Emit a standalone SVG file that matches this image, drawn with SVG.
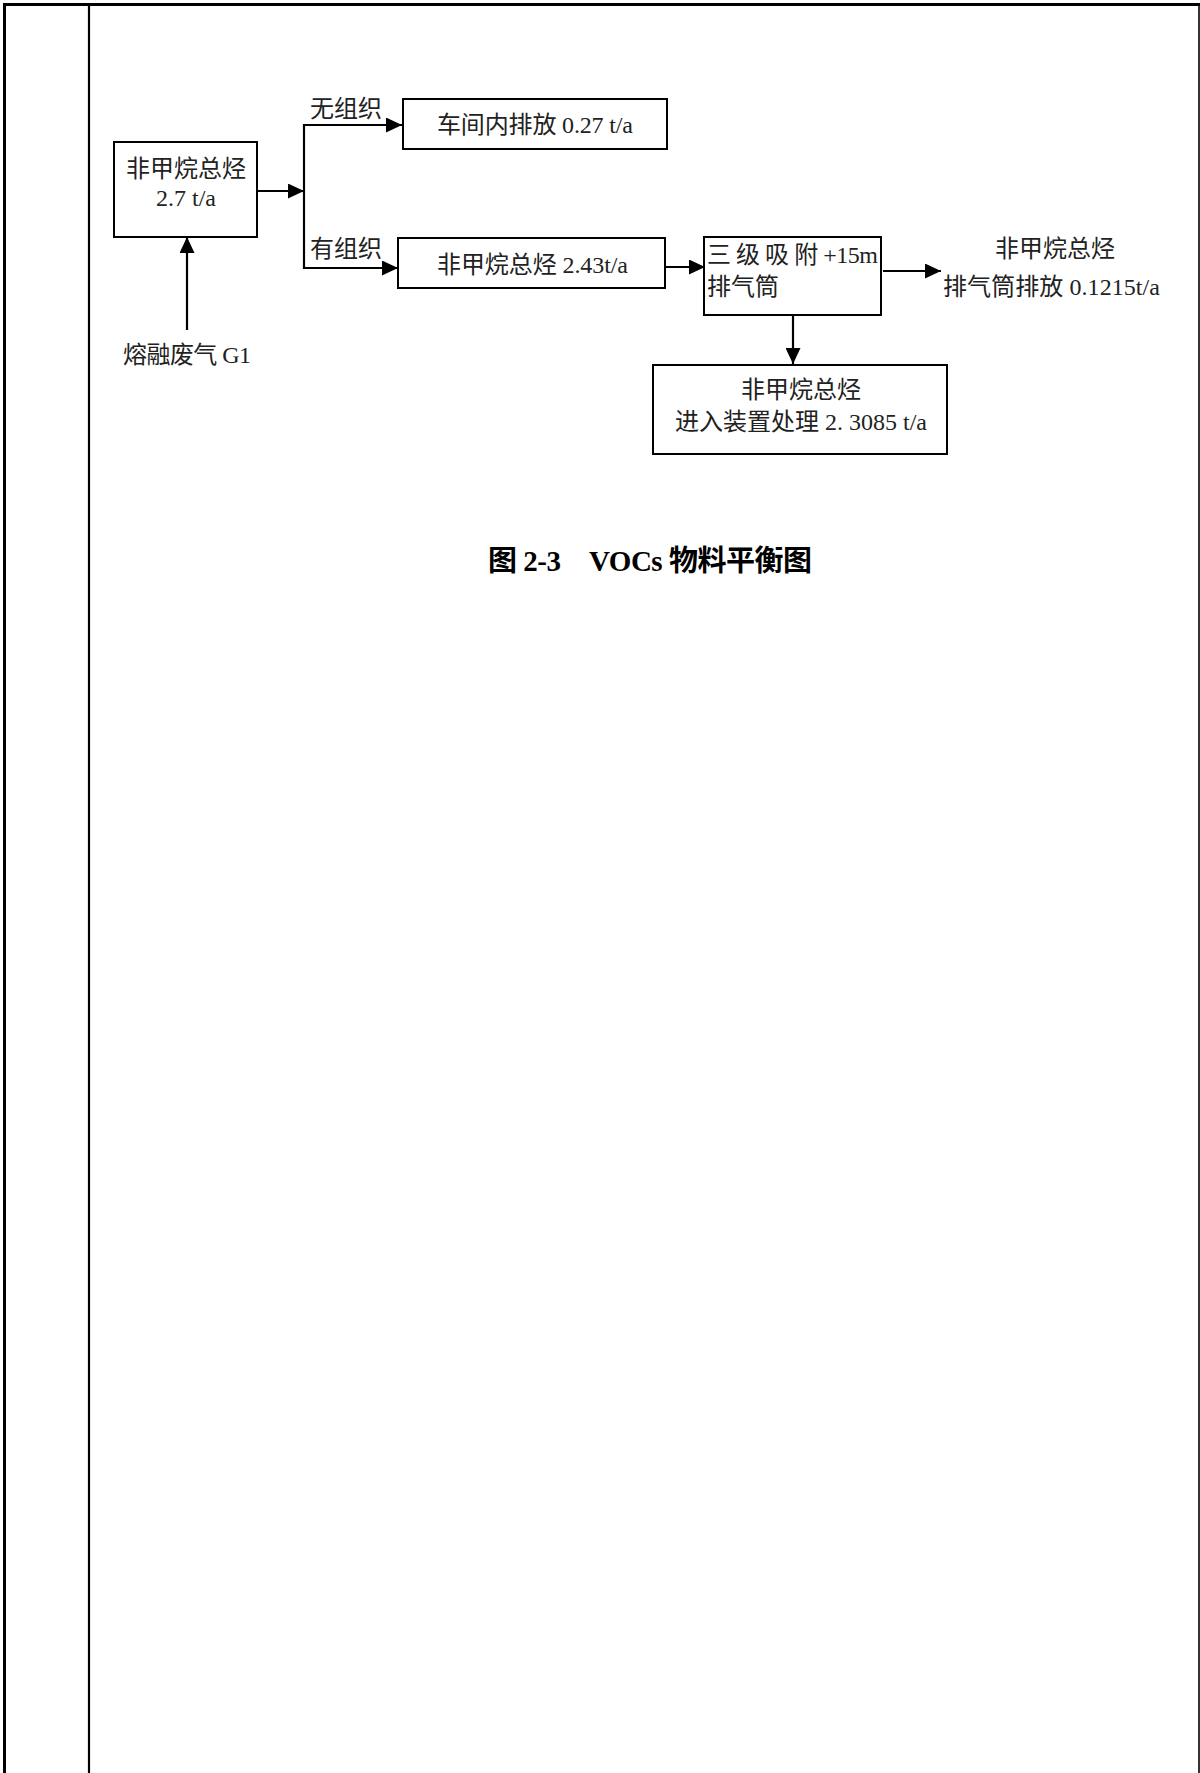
<svg xmlns="http://www.w3.org/2000/svg" width="1200" height="1773" viewBox="0 0 1200 1773">
<style>
.box{fill:#fff;stroke:#000;stroke-width:2}
.t{font-family:"Liberation Serif","Noto Sans CJK SC",serif;font-size:24px;fill:#222}
.c{text-anchor:middle}
.cap{font-family:"Liberation Serif","Noto Sans CJK SC",serif;font-size:29px;font-weight:bold;fill:#000}
.ln{stroke:#000;stroke-width:2.2;fill:none}
.frame{stroke:#000;fill:none}
</style>
<defs>
<marker id="ah" markerUnits="userSpaceOnUse" markerWidth="16" markerHeight="15" refX="16" refY="7.5" orient="auto">
<path d="M0,0 L16,7.5 L0,15 z" fill="#000"/>
</marker>
</defs>
<rect width="1200" height="1773" fill="#fff"/>
<g id="frame">
<line class="frame" x1="3" y1="4.5" x2="1200" y2="4.5" stroke-width="3"/>
<line class="frame" x1="4.5" y1="3" x2="4.5" y2="1773" stroke-width="3"/>
<line class="frame" x1="89" y1="3" x2="89" y2="1773" stroke-width="2.2"/>
<line class="frame" x1="1199" y1="3" x2="1199" y2="1773" stroke-width="1.6"/>
</g>
<g id="connectors">
<line class="ln" x1="258" y1="191" x2="304" y2="191" marker-end="url(#ah)"/>
<line class="ln" x1="304" y1="124" x2="304" y2="269"/>
<line class="ln" x1="303" y1="125" x2="402" y2="125" marker-end="url(#ah)"/>
<line class="ln" x1="303" y1="268" x2="398" y2="268" marker-end="url(#ah)"/>
<line class="ln" x1="666" y1="267" x2="705" y2="267" marker-end="url(#ah)"/>
<line class="ln" x1="883" y1="271" x2="941" y2="271" marker-end="url(#ah)"/>
<line class="ln" x1="793" y1="315" x2="793" y2="364" marker-end="url(#ah)"/>
<line class="ln" x1="187" y1="330" x2="187" y2="237" marker-end="url(#ah)"/>
<text class="t" x="310" y="117">无组织</text>
<text class="t" x="310" y="257">有组织</text>
</g>
<g id="n_total">
<rect class="box" x="114" y="142" width="143" height="95"/>
<text class="t c" x="186" y="177">非甲烷总烃</text>
<text class="t c" x="186" y="206">2.7 t/a</text>
</g>
<g id="n_g1">
<text class="t" x="123" y="363" textLength="128" lengthAdjust="spacing">熔融废气 G1</text>
</g>
<g id="n_unorg">
<rect class="box" x="403" y="99" width="264" height="50"/>
<text class="t" x="437" y="133" textLength="196" lengthAdjust="spacing">车间内排放 0.27 t/a</text>
</g>
<g id="n_org">
<rect class="box" x="398" y="238" width="267" height="50"/>
<text class="t" x="437" y="273" textLength="191" lengthAdjust="spacing">非甲烷总烃 2.43t/a</text>
</g>
<g id="n_adsorb">
<rect class="box" x="704" y="237" width="177" height="78"/>
<text class="t" x="707" y="263" textLength="171" lengthAdjust="spacing">三 级 吸 附 +15m</text>
<text class="t" x="707" y="295">排气筒</text>
</g>
<g id="n_stack">
<text class="t c" x="1055" y="257">非甲烷总烃</text>
<text class="t" x="943" y="295" textLength="217" lengthAdjust="spacing">排气筒排放 0.1215t/a</text>
</g>
<g id="n_device">
<rect class="box" x="653" y="365" width="294" height="89"/>
<text class="t c" x="801" y="398">非甲烷总烃</text>
<text class="t" x="675" y="430" textLength="252" lengthAdjust="spacing">进入装置处理 2. 3085 t/a</text>
</g>
<g id="caption">
<text class="cap" x="488" y="571" textLength="324" lengthAdjust="spacing">图 2-3　VOCs 物料平衡图</text>
</g>
</svg>
